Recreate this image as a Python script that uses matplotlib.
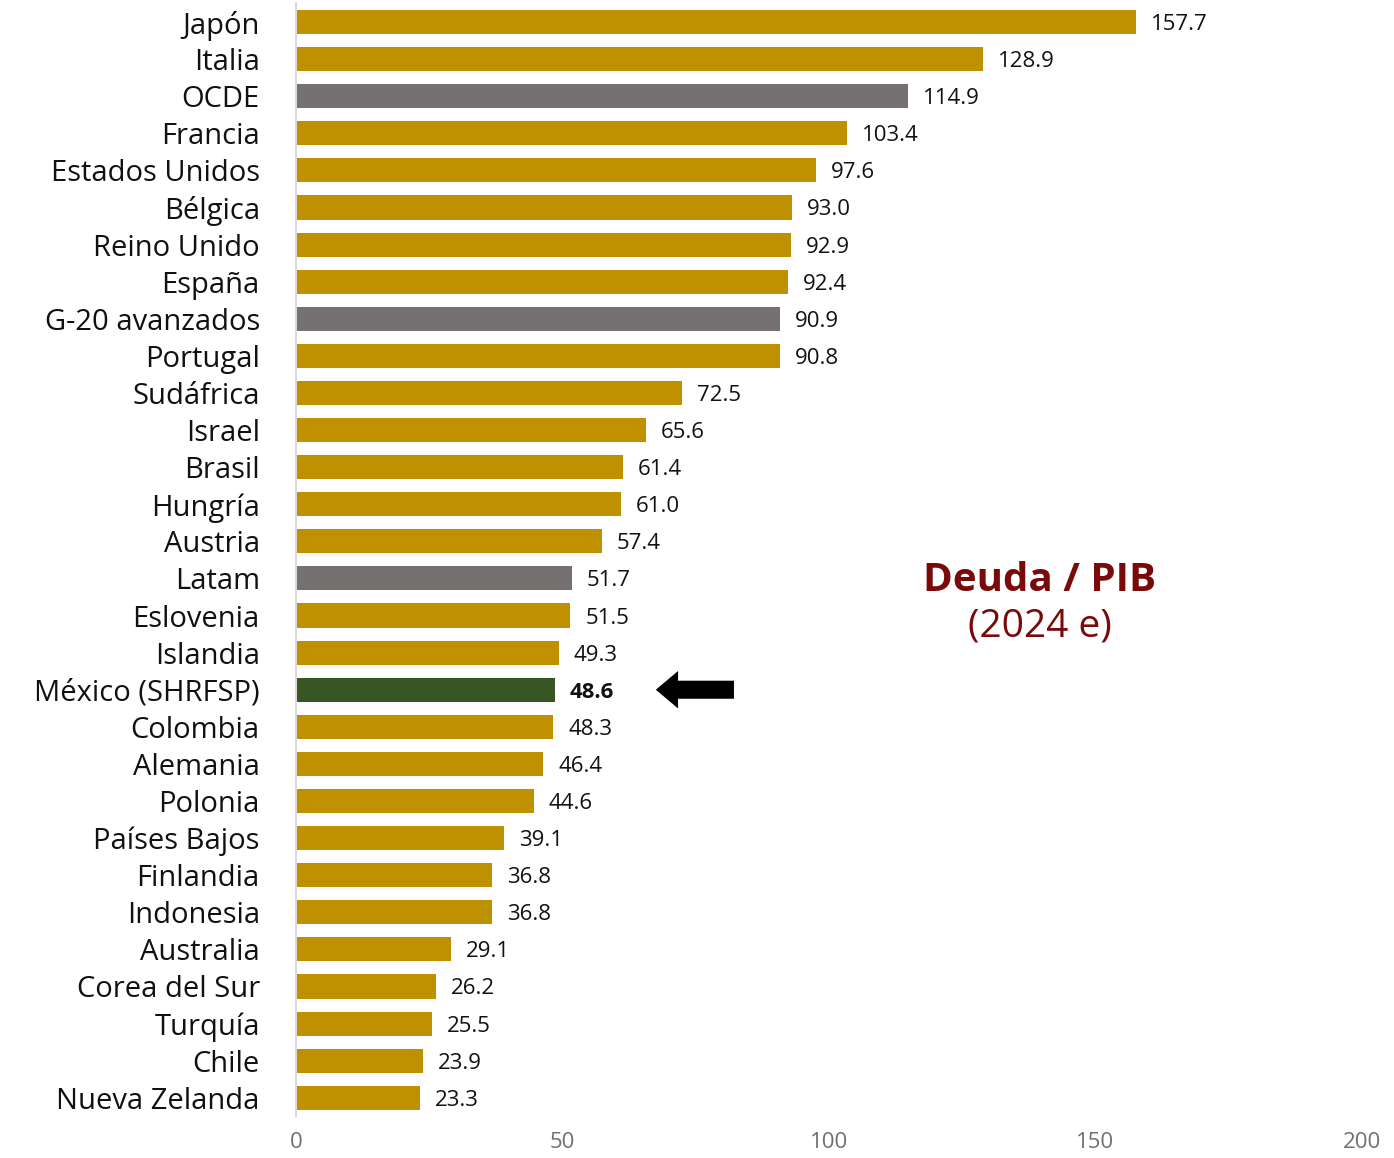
import matplotlib.pyplot as plt

# Deuda / PIB 2024 (estimado)
paises = ["Japón", "Italia", "OCDE", "Francia", "Estados Unidos", "Bélgica",
          "Reino Unido", "España", "G-20 avanzados", "Portugal", "Sudáfrica",
          "Israel", "Brasil", "Hungría", "Austria", "Latam", "Eslovenia",
          "Islandia", "México (SHRFSP)", "Colombia", "Alemania", "Polonia",
          "Países Bajos", "Finlandia", "Indonesia", "Australia",
          "Corea del Sur", "Turquía", "Chile", "Nueva Zelanda"]
deuda = [157.7, 128.9, 114.9, 103.4, 97.6, 93.0, 92.9, 92.4, 90.9, 90.8,
         72.5, 65.6, 61.4, 61.0, 57.4, 51.7, 51.5, 49.3, 48.6, 48.3, 46.4,
         44.6, 39.1, 36.8, 36.8, 29.1, 26.2, 25.5, 23.9, 23.3]
agregados = ["OCDE", "G-20 avanzados", "Latam"]
destacado = "México (SHRFSP)"
xticks = [0, 50, 100, 150, 200]

oro = "#BF9000"
gris = "#767171"
verde = "#375623"
vino = "#7A0A0A"

plt.rcParams["font.family"] = ["Open Sans", "DejaVu Sans"]

fig = plt.figure(figsize=(13.94, 11.58), dpi=100)
ax = fig.add_axes([0.2123, 0.036, 0.7647, 0.961])

colores = []
for p in paises:
    if p == destacado:
        colores.append(verde)
    elif p in agregados:
        colores.append(gris)
    else:
        colores.append(oro)

y = list(range(len(paises)))
ax.barh(y, deuda, height=0.65, color=colores)

for yi, p, v in zip(y, paises, deuda):
    peso = "bold" if p == destacado else "normal"
    ax.text(v + 2.8, yi, f"{v:.1f}", va="center_baseline", ha="left",
            fontsize=16, color="#111111", fontweight=peso)

ax.set_ylim(len(paises) - 0.5, -0.5)
ax.set_xlim(0, 200)
ax.set_yticks(y)
ax.set_yticklabels(paises, fontsize=21, color="#111111")
ax.set_xticks(xticks)
ax.set_xticklabels([str(t) for t in xticks], fontsize=16, color="#707070")
ax.tick_params(axis="y", length=0, pad=26)
ax.tick_params(axis="x", length=0, pad=11)

for s in ["top", "right", "bottom"]:
    ax.spines[s].set_visible(False)
ax.spines["left"].set_color("#D9D9D9")
ax.spines["left"].set_linewidth(1.5)

# flecha hacia México
iy = paises.index(destacado)
ax.annotate("", xy=(67.0, iy), xytext=(82.7, iy),
            arrowprops=dict(arrowstyle="simple,head_length=0.8,head_width=1.35,tail_width=0.65",
                            mutation_scale=20, color="black", lw=0))

ax.text(139.5, 15.05, "Deuda / PIB", ha="center", va="center",
        fontsize=29, fontweight="bold", color=vino)
ax.text(139.5, 16.3, "(2024 e)", ha="center", va="center",
        fontsize=28, color=vino)

fig.savefig("out.png", dpi=100, facecolor="white")
